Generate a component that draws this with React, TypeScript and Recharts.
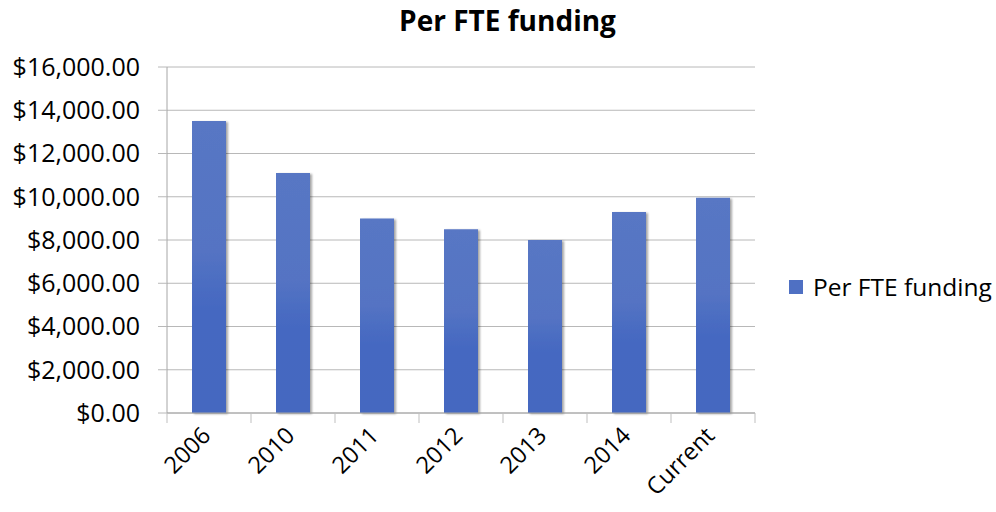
import { Bar, BarChart, CartesianGrid, XAxis, YAxis } from "recharts";

const categories = ["2006", "2010", "2011", "2012", "2013", "2014", "Current"];
const funding = [13500, 11100, 9000, 8500, 8000, 9300, 9950];
const yTicks = [0, 2000, 4000, 6000, 8000, 10000, 12000, 14000, 16000];

const data = categories.map((c, i) => ({ year: c, value: funding[i] }));

const FONT = "'Open Sans', sans-serif";
const BAND = 84;

const money = (v: number) =>
  "$" + v.toLocaleString("en-US", { minimumFractionDigits: 2, maximumFractionDigits: 2 });

function YearTick(props: any) {
  const { x, y, payload, index } = props;
  const last = index === categories.length - 1;
  return (
    <g>
      <line x1={x - BAND / 2} x2={x - BAND / 2} y1={413} y2={423} stroke="#BFBFBF" />
      {last && <line x1={x + BAND / 2} x2={x + BAND / 2} y1={413} y2={423} stroke="#BFBFBF" />}
      <text
        x={x + 3}
        y={y + 22}
        textAnchor="end"
        fontSize={23.5}
        fontFamily={FONT}
        fill="#000"
        transform={`rotate(-45, ${x + 3}, ${y + 22})`}
      >
        {payload.value}
      </text>
    </g>
  );
}

export default function App() {
  return (
    <div style={{ position: "absolute", left: 0, top: 0, width: 996, height: 512, background: "#fff" }}>
      <div
        style={{
          position: "absolute",
          left: 0,
          top: 1,
          width: 1015,
          textAlign: "center",
          fontFamily: FONT,
          fontWeight: 700,
          fontSize: 28,
          color: "#000",
        }}
      >
        Per FTE funding
      </div>
      <BarChart width={996} height={512} data={data} margin={{ top: 67, right: 241, bottom: 0, left: 0 }}>
        <defs>
          <linearGradient id="barFill" x1="0" y1="0" x2="0" y2="1">
            <stop offset="0%" stopColor="#5877C4" />
            <stop offset="45%" stopColor="#5473C3" />
            <stop offset="65%" stopColor="#4468C1" />
            <stop offset="100%" stopColor="#4468C0" />
          </linearGradient>
          <filter id="shade" x="-20%" y="-5%" width="140%" height="110%">
            <feDropShadow dx="2" dy="1" stdDeviation="1.2" floodColor="#000" floodOpacity="0.35" />
          </filter>
        </defs>
        <CartesianGrid vertical={false} stroke="#B8B8B8" />
        <XAxis
          dataKey="year"
          height={99}
          interval={0}
          tickLine={false}
          tickSize={0}
          axisLine={{ stroke: "#A6A6A6" }}
          tick={<YearTick />}
        />
        <YAxis
          width={167}
          domain={[0, 16000]}
          ticks={yTicks}
          interval={0}
          tickSize={9}
          tickMargin={18}
          axisLine={{ stroke: "#A6A6A6" }}
          tickLine={{ stroke: "#B8B8B8" }}
          tickFormatter={money}
          tick={{ fontSize: 25, fontFamily: FONT, fill: "#000" }}
        />
        <Bar dataKey="value" barSize={34} fill="url(#barFill)" filter="url(#shade)" isAnimationActive={false} />
      </BarChart>
      <div
        style={{
          position: "absolute",
          left: 789,
          top: 270,
          display: "flex",
          alignItems: "center",
          fontFamily: FONT,
          fontSize: 24.5,
          color: "#000",
        }}
      >
        <span style={{ width: 14, height: 14, background: "#4F70C3", marginRight: 10, display: "inline-block" }} />
        Per FTE funding
      </div>
    </div>
  );
}
